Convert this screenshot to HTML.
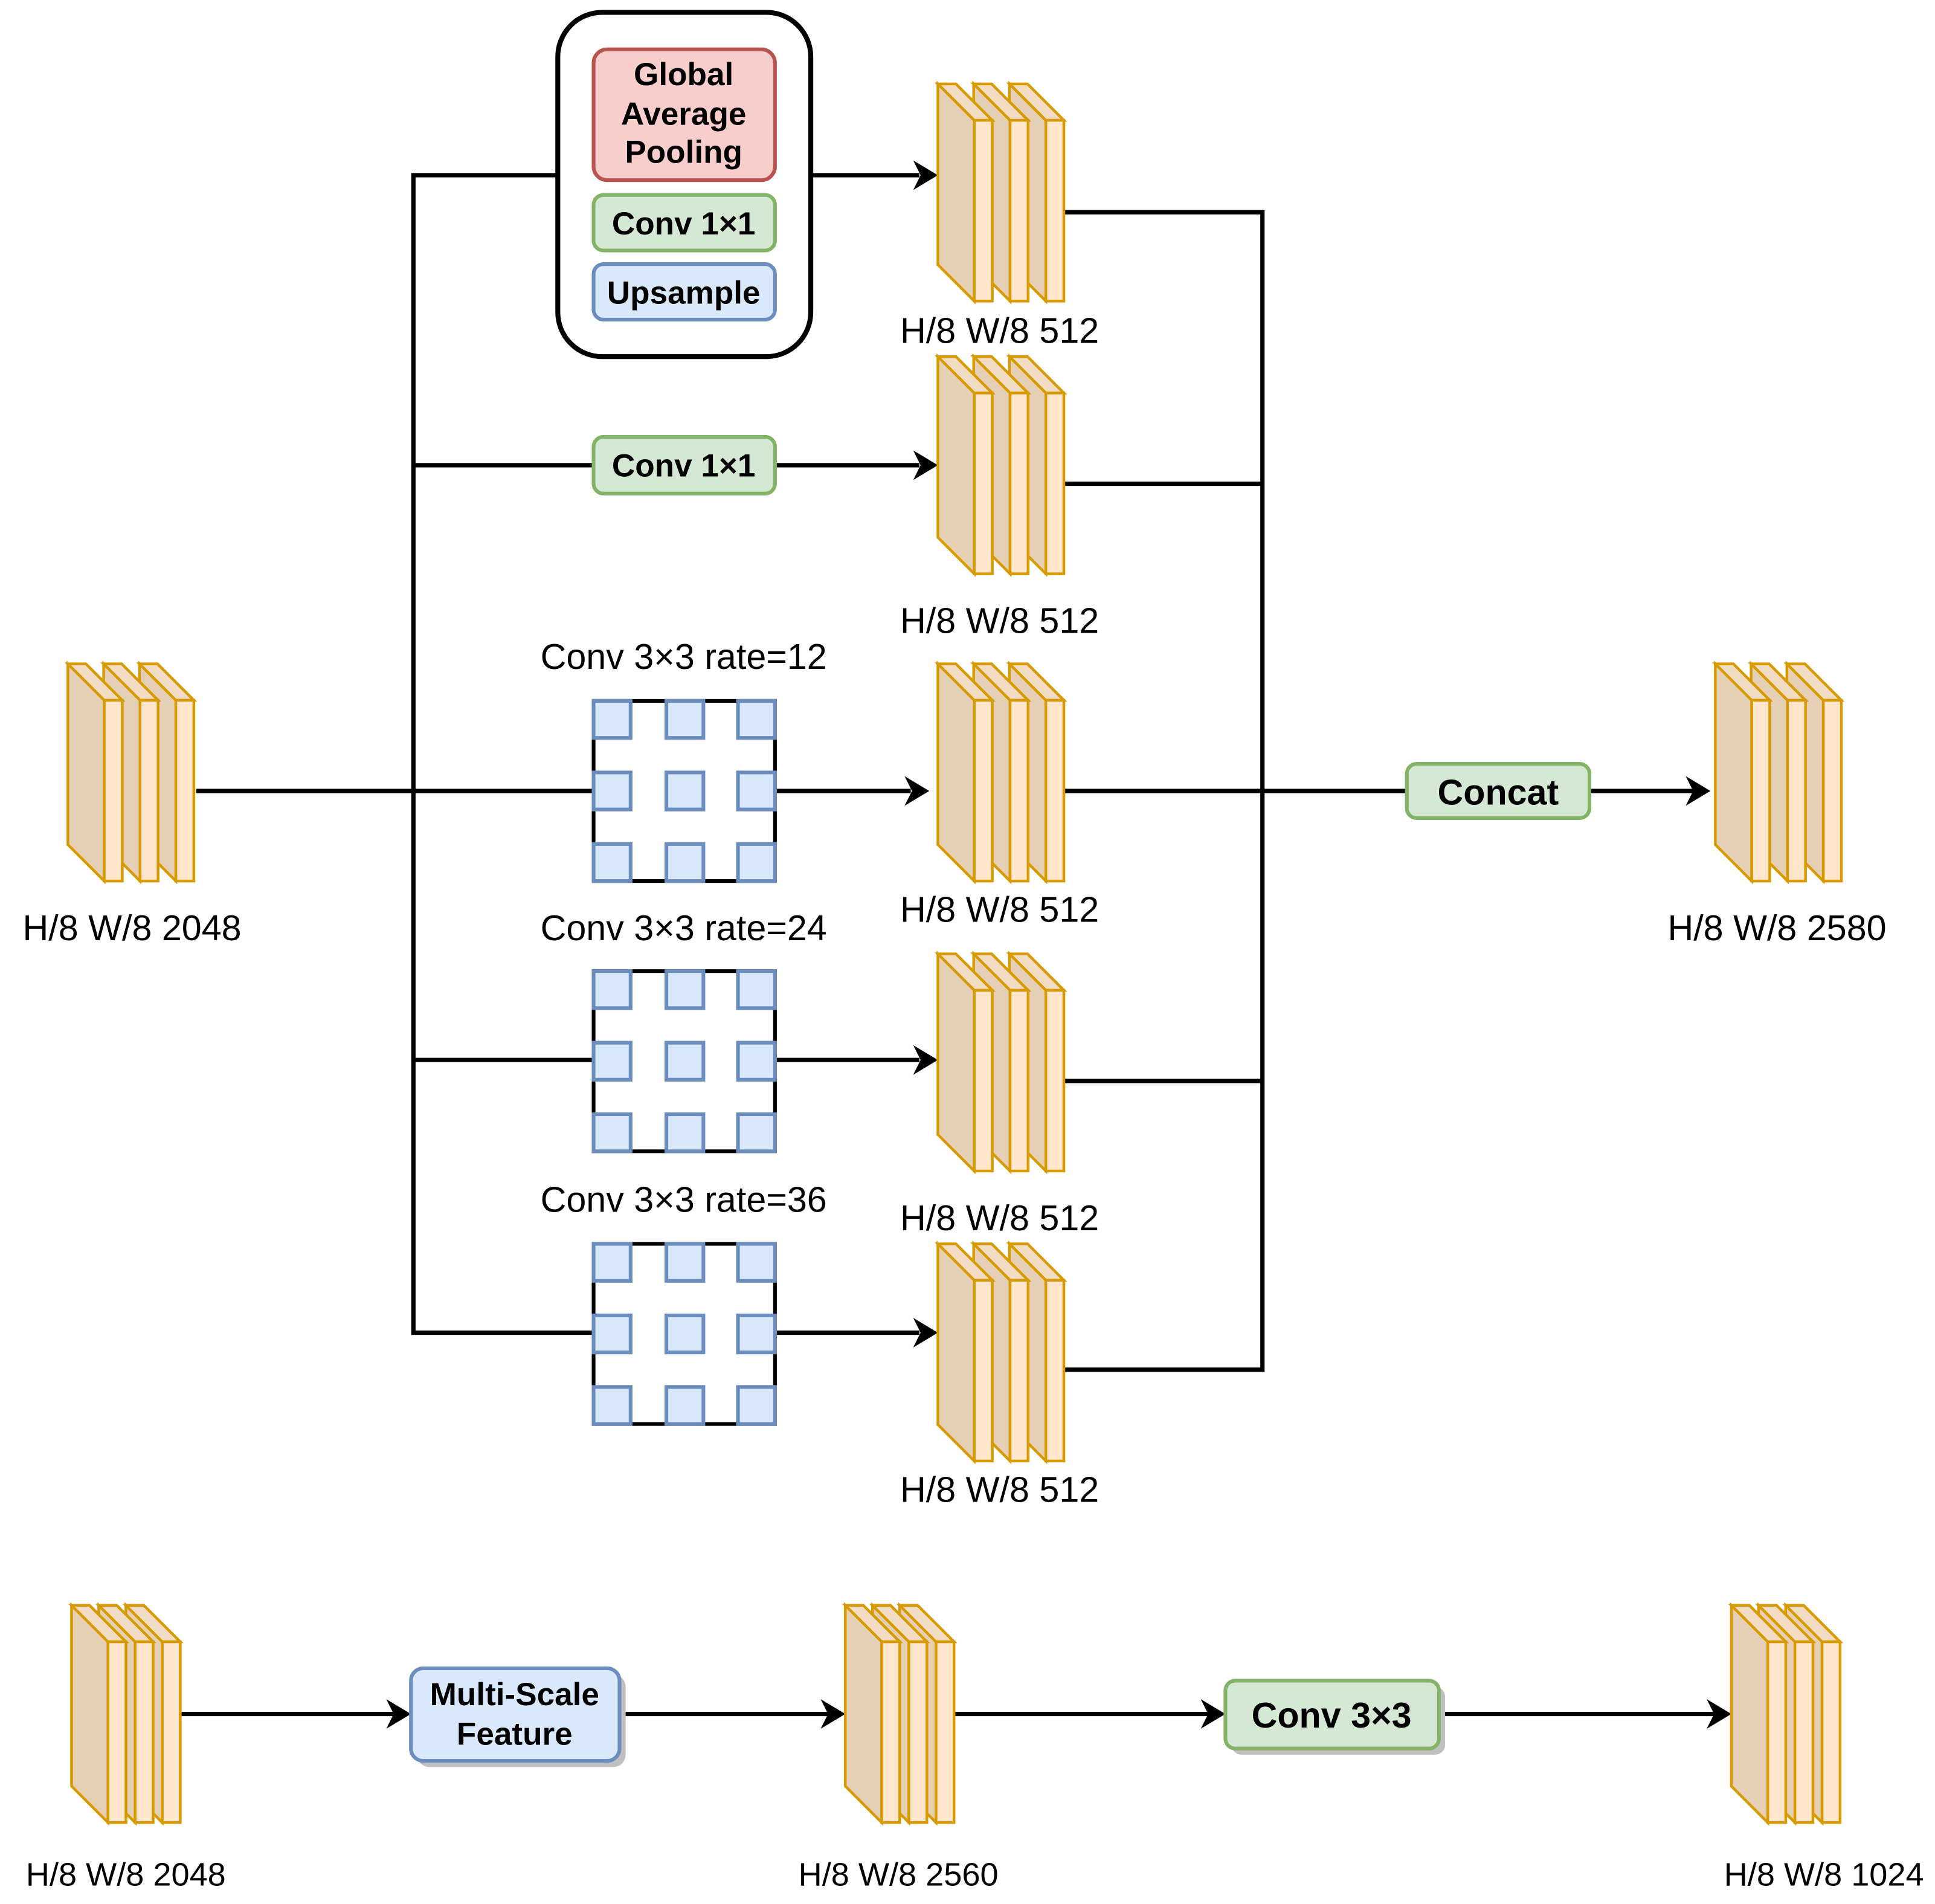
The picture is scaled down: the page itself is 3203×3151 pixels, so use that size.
<!DOCTYPE html>
<html><head><meta charset="utf-8"><style>
html,body{margin:0;padding:0;background:#fff;}
svg{display:block;}
text{font-family:"Liberation Sans",Arial,sans-serif;fill:#000;}
.lbl{font-size:29px;text-anchor:middle;}
.b{font-weight:bold;text-anchor:middle;}
</style></head><body>
<svg width="3203" height="3151" viewBox="0 0 1568 1543" preserveAspectRatio="none" xmlns="http://www.w3.org/2000/svg">
<defs>
<g id="slabA" stroke="#D79B00" stroke-width="2.2" stroke-linejoin="miter">
<polygon points="0,0 29.5,29.5 29.5,176 0,146.5" fill="#E6D0B5"/>
<polygon points="0,0 14.6,0 44.1,29.5 29.5,29.5" fill="#F2DCC4"/>
<rect x="29.5" y="29.5" width="14.6" height="146.5" fill="#FFE6CC"/>
</g>
<g id="stackA"><use href="#slabA" x="58"/><use href="#slabA" x="29"/><use href="#slabA"/></g>
<g id="stackB"><use href="#slabA" x="44"/><use href="#slabA" x="22"/><use href="#slabA"/></g>
<g id="dil">
<rect x="0" y="0" width="147" height="146" fill="#fff" stroke="#000" stroke-width="3"/>
<g fill="#DAE8FC" stroke="#6C8EBF" stroke-width="3">
<rect x="0" y="0" width="30" height="30"/><rect x="59" y="0" width="30" height="30"/><rect x="117" y="0" width="30" height="30"/>
<rect x="0" y="58" width="30" height="30"/><rect x="59" y="58" width="30" height="30"/><rect x="117" y="58" width="30" height="30"/>
<rect x="0" y="116" width="30" height="30"/><rect x="59" y="116" width="30" height="30"/><rect x="117" y="116" width="30" height="30"/>
</g></g>
<path id="ah" d="M0,0 L-20,-12 L-14,0 L-20,12 Z" fill="#000"/>
</defs>

<g stroke="#000" stroke-width="3.5" fill="none">
<polyline points="452,142 335,142 335,1080 481,1080"/>
<line x1="657" y1="142" x2="745" y2="142"/>
<line x1="335" y1="377" x2="481" y2="377"/>
<line x1="628" y1="377" x2="745" y2="377"/>
<line x1="159" y1="641" x2="481" y2="641"/>
<line x1="628" y1="641" x2="738" y2="641"/>
<line x1="335" y1="859" x2="481" y2="859"/>
<line x1="628" y1="859" x2="745" y2="859"/>
<line x1="628" y1="1080" x2="745" y2="1080"/>
<polyline points="862,172 1023,172 1023,1110 862,1110"/>
<line x1="862" y1="392" x2="1023" y2="392"/>
<line x1="862" y1="641" x2="1140" y2="641"/>
<line x1="862" y1="876" x2="1023" y2="876"/>
<line x1="1288" y1="641" x2="1372" y2="641"/>
<line x1="147" y1="1389" x2="320" y2="1389"/>
<line x1="502" y1="1389" x2="672" y2="1389"/>
<line x1="773" y1="1389" x2="980" y2="1389"/>
<line x1="1166" y1="1389" x2="1390" y2="1389"/>
</g>
<use href="#ah" x="760" y="142"/>
<use href="#ah" x="760" y="377"/>
<use href="#ah" x="753" y="641"/>
<use href="#ah" x="760" y="859"/>
<use href="#ah" x="760" y="1080"/>
<use href="#ah" x="1386" y="641"/>
<use href="#ah" x="333" y="1389"/>
<use href="#ah" x="685" y="1389"/>
<use href="#ah" x="993" y="1389"/>
<use href="#ah" x="1403" y="1389"/>

<rect x="452" y="10" width="205" height="279" rx="36" fill="#fff" stroke="#000" stroke-width="4"/>
<rect x="481" y="40" width="147" height="106" rx="11" fill="#F8CECC" stroke="#B85450" stroke-width="3"/>
<text class="b" font-size="26" x="554" y="69">Global</text>
<text class="b" font-size="26" x="554" y="101">Average</text>
<text class="b" font-size="26" x="554" y="132">Pooling</text>
<rect x="481" y="158" width="147" height="45" rx="8" fill="#D5E8D4" stroke="#82B366" stroke-width="3"/>
<text class="b" font-size="26" x="554" y="190">Conv 1×1</text>
<rect x="481" y="214" width="147" height="45" rx="8" fill="#DAE8FC" stroke="#6C8EBF" stroke-width="3"/>
<text class="b" font-size="26" x="554" y="246">Upsample</text>

<rect x="481" y="354" width="147" height="46" rx="8" fill="#D5E8D4" stroke="#82B366" stroke-width="3"/>
<text class="b" font-size="26" x="554" y="386">Conv 1×1</text>

<use href="#dil" x="481" y="568"/>
<use href="#dil" x="481" y="787"/>
<use href="#dil" x="481" y="1008"/>
<text class="lbl" x="554" y="542">Conv 3×3 rate=12</text>
<text class="lbl" x="554" y="762">Conv 3×3 rate=24</text>
<text class="lbl" x="554" y="982">Conv 3×3 rate=36</text>

<rect x="1140" y="619" width="148" height="44" rx="8" fill="#D5E8D4" stroke="#82B366" stroke-width="3"/>
<text class="b" font-size="29" x="1214" y="652">Concat</text>

<use href="#stackA" x="760" y="68"/>
<use href="#stackA" x="760" y="289"/>
<use href="#stackA" x="760" y="538"/>
<use href="#stackA" x="760" y="773"/>
<use href="#stackA" x="760" y="1008"/>
<use href="#stackA" x="55" y="538"/>
<use href="#stackA" x="1390" y="538"/>
<text class="lbl" x="810" y="278">H/8 W/8 512</text>
<text class="lbl" x="810" y="513">H/8 W/8 512</text>
<text class="lbl" x="810" y="747">H/8 W/8 512</text>
<text class="lbl" x="810" y="997">H/8 W/8 512</text>
<text class="lbl" x="810" y="1217">H/8 W/8 512</text>
<text class="lbl" x="107" y="762">H/8 W/8 2048</text>
<text class="lbl" x="1440" y="762">H/8 W/8 2580</text>

<use href="#stackB" x="58" y="1301"/>
<use href="#stackB" x="685" y="1301"/>
<use href="#stackB" x="1403" y="1301"/>
<rect x="338" y="1357" width="169" height="75" rx="10" fill="#C0C0C0"/>
<rect x="333" y="1352" width="169" height="75" rx="10" fill="#DAE8FC" stroke="#6C8EBF" stroke-width="3"/>
<text class="b" font-size="26" x="417" y="1382">Multi-Scale</text>
<text class="b" font-size="26" x="417" y="1414">Feature</text>
<rect x="998" y="1367" width="173" height="55" rx="8" fill="#C0C0C0"/>
<rect x="993" y="1362" width="173" height="55" rx="8" fill="#D5E8D4" stroke="#82B366" stroke-width="3"/>
<text class="b" font-size="29" x="1079" y="1400">Conv 3×3</text>
<text class="lbl" x="102" y="1528" style="font-size:26.5px">H/8 W/8 2048</text>
<text class="lbl" x="728" y="1528" style="font-size:26.5px">H/8 W/8 2560</text>
<text class="lbl" x="1478" y="1528" style="font-size:26.5px">H/8 W/8 1024</text>
</svg>
</body></html>
